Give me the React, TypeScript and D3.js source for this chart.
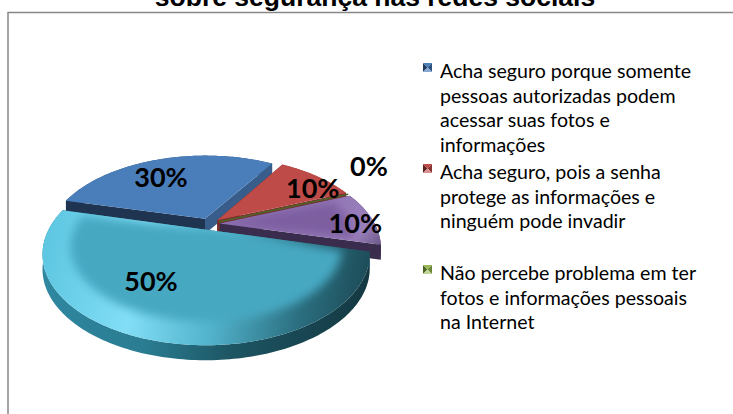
import React from 'react';
import * as d3 from 'd3';

// chart data
const titleText = 'sobre segurança nas redes sociais';
const categories = [
  'Acha seguro porque somente pessoas autorizadas podem acessar suas fotos e informações',
  'Acha seguro, pois a senha protege as informações e ninguém pode invadir',
  'Não percebe problema em ter fotos e informações pessoais na Internet',
  'Categoria 4',
  'Categoria 5',
];
const values = [30, 10, 0, 10, 50];
const percentLabels = ['30%', '10%', '0%', '10%', '50%'];
// legend text as wrapped in the original (only the first three entries fit)
const legendLines = [
  ['Acha seguro porque somente', 'pessoas autorizadas podem', 'acessar suas fotos e', 'informações'],
  ['Acha seguro, pois a senha', 'protege as informações e', 'ninguém pode invadir'],
  ['Não percebe problema em ter', 'fotos e informações pessoais', 'na Internet'],
];

const palette = [
  { top: '#4A7EBB', wall: '#33557F', start: '#1F3450', end: '#385D8A', mk: ['#1F3A5E', '#4A7EBB', '#2D5282', '#86A9D6'] },
  { top: '#BE4B48', wall: '#8A3532', start: '#6E2A28', end: '#7C302E', mk: ['#5E2321', '#BE4B48', '#8A3532', '#D9908E'] },
  { top: '#98B954', wall: '#6B8538', start: '#4F6228', end: '#4F6228', mk: ['#4F6228', '#98B954', '#6B8538', '#BFD696'] },
  { top: '#7D5FA0', wall: '#3C2D4F', start: '#33263F', end: '#3A2C4C', mk: ['#3A2C4C', '#7D5FA0', '#5A437A', '#AD98C6'] },
  { top: '#46A8C2', wall: 'url(#cyanWall)', start: '#1F5665', end: '#1F5665', mk: ['#1F5665', '#46A8C2', '#2F7E92', '#90D3E5'] },
];

const W = 733;
const H = 414;
const CX = 209;
const CY = 224;
const RX = 155;
const RY = 82;
const PERSP = 0.26;
const EXPLODE = 0.07;
const DEPTH = 15;
const START = (-76 * Math.PI) / 180;

const project = (x: number, v: number, dz = 0): [number, number] => {
  const s = 1 / (1 - PERSP * v);
  return [CX + RX * x * s, CY + RY * v * s + dz];
};

const line = d3.line<[number, number]>();

export default function App() {
  const pie = d3
    .pie<number>()
    .sort(null)
    .startAngle(START)
    .endAngle(START + 2 * Math.PI);
  const arcs = pie(values);

  const slices = arcs.map((a, i) => {
    const mid = (a.startAngle + a.endAngle) / 2;
    const ox = EXPLODE * Math.sin(mid);
    const ov = -EXPLODE * Math.cos(mid);
    const pt = (t: number, r: number, dz = 0) =>
      project(ox + r * Math.sin(t), ov - r * Math.cos(t), dz);
    const rim = (a0: number, a1: number, r: number, dz: number) => {
      const n = Math.max(2, Math.ceil(Math.abs(a1 - a0) / 0.02));
      return d3.range(n + 1).map((k) => pt(a0 + ((a1 - a0) * k) / n, r, dz));
    };
    const top = line([pt(0, 0), ...rim(a.startAngle, a.endAngle, 1, 0)]) + 'Z';
    const inner =
      line([pt(0, 0), ...rim(a.startAngle + 0.04, a.endAngle - 0.04, 0.84, 0)]) + 'Z';
    const wall =
      line([
        ...rim(a.startAngle, a.endAngle, 1, 0),
        ...rim(a.startAngle, a.endAngle, 1, DEPTH).reverse(),
      ]) + 'Z';
    const face = (t: number) =>
      line([pt(t, 0), pt(t, 1), pt(t, 1, DEPTH), pt(t, 0, DEPTH)]) + 'Z';

    // label anchors (angle shift, radius) to sit where the original puts them
    const lab = [
      [-0.12, 0.7],
      [0.12, 0.84],
      [-0.23, 1.47],
      [0.05, 0.88],
      [0.28, 0.6],
    ][i];
    const lp = pt(mid + lab[0], lab[1]);
    return {
      i,
      mid,
      top,
      inner,
      wall,
      startFace: face(a.startAngle),
      endFace: face(a.endAngle),
      zero: a.endAngle - a.startAngle < 1e-6,
      lp,
    };
  });

  // back to front
  const order = [...slices].sort((p, q) => -Math.cos(p.mid) - -Math.cos(q.mid));

  const legendX = 423;
  const legendTop = 78;
  const slot = 101;
  const lineH = 24.6;

  return (
    <div style={{ position: 'fixed', left: 0, top: 0 }}>
      <svg width={W} height={H} style={{ display: 'block', background: '#fff' }}>
        <defs>
          <linearGradient id="cyanWall" gradientUnits="userSpaceOnUse" x1={40} y1={260} x2={370} y2={300}>
            <stop offset="0" stopColor="#2F88A1" />
            <stop offset="0.35" stopColor="#2A7C91" />
            <stop offset="0.6" stopColor="#1D5664" />
            <stop offset="1" stopColor="#143842" />
          </linearGradient>
          <linearGradient id="cyanBevel" gradientUnits="userSpaceOnUse" x1={40} y1={240} x2={370} y2={300}>
            <stop offset="0" stopColor="#5CC5E0" />
            <stop offset="0.3" stopColor="#82DEF6" />
            <stop offset="0.55" stopColor="#52B3CC" />
            <stop offset="0.8" stopColor="#2B6F80" />
            <stop offset="1" stopColor="#1C4854" />
          </linearGradient>
          <linearGradient id="purpleBevel" gradientUnits="userSpaceOnUse" x1={300} y1={200} x2={385} y2={270}>
            <stop offset="0" stopColor="#8E72B2" />
            <stop offset="0.6" stopColor="#9A80BC" />
            <stop offset="1" stopColor="#4A3A60" />
          </linearGradient>
          <filter id="soft" x="-20%" y="-20%" width="140%" height="140%">
            <feGaussianBlur stdDeviation="5" />
          </filter>
          {slices.map((s) => (
            <clipPath id={`clip${s.i}`} key={s.i}>
              <path d={s.top} />
            </clipPath>
          ))}
        </defs>

        {/* chart area border */}
        <rect x={8} y={12.5} width={760} height={440} fill="none" stroke="#878787" strokeWidth={1.5} />

        <text
          x={375}
          y={6}
          textAnchor="middle"
          fontFamily="'Liberation Sans', Arial, sans-serif"
          fontWeight="bold"
          fontSize={26.5}
          fill="#000"
        >
          {titleText}
        </text>

        {order.map((s) => {
          const c = palette[s.i];
          if (s.zero) {
            return <path key={s.i} d={s.top} fill="none" stroke={c.start} strokeWidth={1.6} />;
          }
          const bevel = s.i === 4 ? 'url(#cyanBevel)' : s.i === 3 ? 'url(#purpleBevel)' : null;
          return (
            <g key={s.i}>
              <path d={s.wall} fill={c.wall} />
              <path d={s.startFace} fill={c.start} />
              <path d={s.endFace} fill={c.end} />
              <path d={s.top} fill={bevel || c.top} />
              {bevel && (
                <g clipPath={`url(#clip${s.i})`}>
                  <path d={s.inner} fill={c.top} filter="url(#soft)" />
                </g>
              )}
            </g>
          );
        })}

        {slices.map((s) => (
          <text
            key={`l${s.i}`}
            x={s.lp[0]}
            y={s.lp[1]}
            textAnchor="middle"
            dominantBaseline="central"
            fontFamily="Lato, 'Open Sans', sans-serif"
            fontWeight="bold"
            fontSize={27}
            fill="#000"
          >
            {percentLabels[s.i]}
          </text>
        ))}

        {legendLines.map((lines, i) => {
          const base = legendTop + i * slot;
          const mk = palette[i].mk;
          const x0 = legendX;
          const y0 = base - 15;
          const sz = 9;
          const cx = x0 + sz / 2;
          const cy = y0 + sz / 2;
          return (
            <g key={`lg${i}`}>
              <polygon points={`${x0},${y0} ${cx},${cy} ${x0},${y0 + sz}`} fill={mk[0]} />
              <polygon points={`${x0},${y0} ${x0 + sz},${y0} ${cx},${cy}`} fill={mk[1]} />
              <polygon points={`${x0 + sz},${y0} ${x0 + sz},${y0 + sz} ${cx},${cy}`} fill={mk[2]} />
              <polygon points={`${x0},${y0 + sz} ${cx},${cy} ${x0 + sz},${y0 + sz}`} fill={mk[3]} />
              <text fontFamily="Lato, 'Open Sans', sans-serif" fontSize={19.6} fill="#000">
                {lines.map((t, k) => (
                  <tspan key={k} x={440} y={base + k * lineH}>
                    {t}
                  </tspan>
                ))}
              </text>
            </g>
          );
        })}
      </svg>
    </div>
  );
}
